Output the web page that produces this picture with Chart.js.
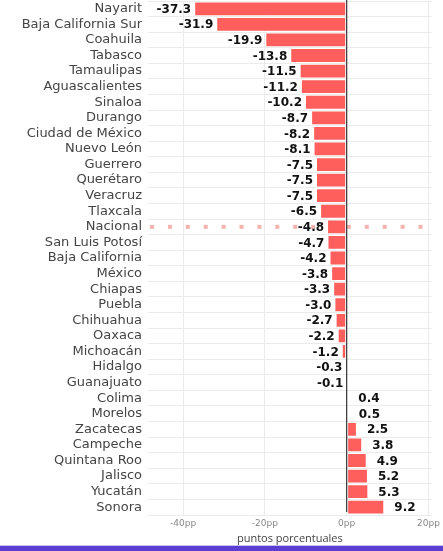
<!DOCTYPE html>
<html>
<head>
<meta charset="utf-8">
<script src="https://cdn.jsdelivr.net/npm/chart.js@4"></script>
<style>
  html, body { margin: 0; padding: 0; background: #fff; }
  #wrap { width: 443px; height: 545px; position: relative; }
  #band { width: 443px; height: 5px; background: #5b3fd3; border-top: 1px solid #c9c0f0; }
</style>
</head>
<body>
<div id="wrap"><canvas id="myChart"></canvas></div>
<div id="band"></div>
<script>
// estados, ordered as in the picture
const estados = ["Nayarit","Baja California Sur","Coahuila","Tabasco","Tamaulipas","Aguascalientes",
  "Sinaloa","Durango","Ciudad de México","Nuevo León","Guerrero","Querétaro","Veracruz","Tlaxcala",
  "Nacional","San Luis Potosí","Baja California","México","Chiapas","Puebla","Chihuahua","Oaxaca",
  "Michoacán","Hidalgo","Guanajuato","Colima","Morelos","Zacatecas","Campeche","Quintana Roo",
  "Jalisco","Yucatán","Sonora"];
const cambio = [-37.3,-31.9,-19.9,-13.8,-11.5,-11.2,-10.2,-8.7,-8.2,-8.1,-7.5,-7.5,-7.5,-6.5,
  -4.8,-4.7,-4.2,-3.8,-3.3,-3.0,-2.7,-2.2,-1.2,-0.3,-0.1,0.4,0.5,2.5,3.8,4.9,5.2,5.3,9.2];
const xTicks = [-40,-20,0,20];
const referencia = "Nacional";

const font = "'DejaVu Sans', sans-serif";

// value labels at the bar ends
const valueLabels = {
  id: 'valueLabels',
  afterDatasetsDraw(chart) {
    const ctx = chart.ctx;
    const meta = chart.getDatasetMeta(0);
    ctx.save();
    ctx.font = "bold 12px " + font;
    ctx.fillStyle = "#111";
    ctx.textBaseline = "middle";
    meta.data.forEach(function(bar, i) {
      const v = cambio[i];
      const txt = v.toFixed(1);
      if (v < 0) {
        ctx.textAlign = "right";
        ctx.fillText(txt, bar.x - 3, bar.y + 1);
      } else {
        ctx.textAlign = "left";
        ctx.fillText(txt, bar.x + 10, bar.y + 1);
      }
    });
    ctx.restore();
  }
};

// dotted line across the Nacional row
const refLine = {
  id: 'refLine',
  beforeDatasetsDraw(chart) {
    const ctx = chart.ctx;
    const area = chart.chartArea;
    const y = chart.scales.y.getPixelForValue(estados.indexOf(referencia));
    ctx.save();
    ctx.fillStyle = "#f5b3b0";
    for (let x = area.left + 2; x < area.right - 6; x += 17.9) {
      ctx.fillRect(x, y - 2, 4, 4);
    }
    ctx.restore();
  }
};

// dark zero line on top of the bars
const zeroLine = {
  id: 'zeroLine',
  afterDatasetsDraw(chart) {
    const ctx = chart.ctx;
    const x = chart.scales.x.getPixelForValue(0);
    ctx.save();
    ctx.strokeStyle = "#333";
    ctx.lineWidth = 1.2;
    ctx.beginPath();
    ctx.moveTo(x, 0);
    ctx.lineTo(x, chart.chartArea.bottom - 3);
    ctx.stroke();
    ctx.restore();
  }
};

new Chart(document.getElementById("myChart"), {
  type: "bar",
  data: {
    labels: estados,
    datasets: [{
      data: cambio,
      backgroundColor: "#ff5f5c",
      borderColor: "#ffffff",
      borderWidth: 1,
      borderSkipped: false,
      categoryPercentage: 0.95,
      barPercentage: 1
    }]
  },
  options: {
    indexAxis: 'y',
    responsive: true,
    maintainAspectRatio: false,
    animation: false,
    layout: { padding: { top: 1, right: 11, left: 0, bottom: 0 } },
    plugins: { legend: { display: false }, tooltip: { enabled: false } },
    scales: {
      x: {
        min: -48.6,
        max: 20.8,
        afterBuildTicks(scale) { scale.ticks = xTicks.map(v => ({ value: v })); },
        ticks: {
          callback: v => v + "pp",
          color: "#888",
          font: { family: font, size: 9 },
          padding: 3
        },
        grid: { color: "#ebebeb", drawTicks: false },
        border: { display: false },
        title: {
          display: true,
          text: "puntos porcentuales",
          color: "#444",
          font: { family: "'Open Sans', sans-serif", size: 11 },
          padding: { top: 0, bottom: 0 }
        }
      },
      y: {
        afterFit(scale) {
          scale.width = 148;
          scale.paddingTop = 0;
          scale.paddingBottom = 0;
        },
        ticks: {
          color: "#444",
          font: { family: font, size: 13 },
          padding: 6,
          autoSkip: false
        },
        grid: { color: "#ebebeb", drawTicks: false },
        border: { display: false }
      }
    }
  },
  plugins: [refLine, valueLabels, zeroLine]
});
</script>
</body>
</html>
